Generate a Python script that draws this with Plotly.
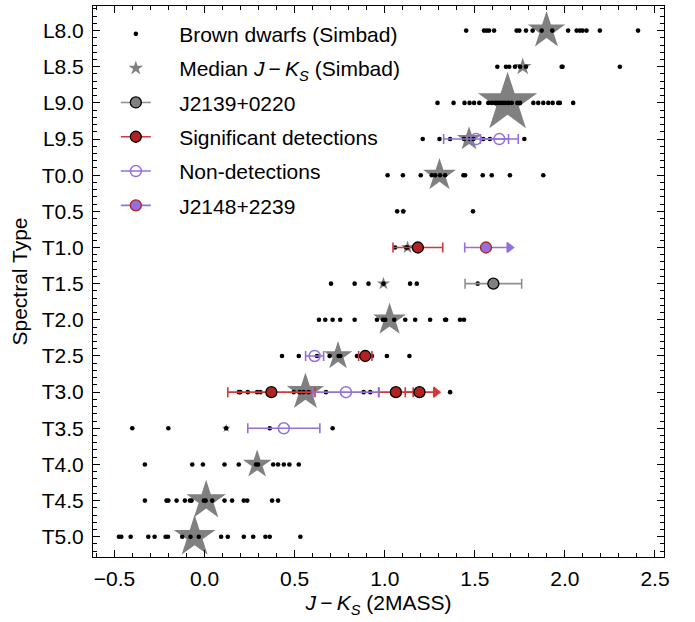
import plotly.graph_objects as go

# ---------------- data ----------------
spectral_types = ["L8.0", "L8.5", "L9.0", "L9.5", "T0.0", "T0.5", "T1.0", "T1.5",
                  "T2.0", "T2.5", "T3.0", "T3.5", "T4.0", "T4.5", "T5.0"]

# J-Ks of Simbad brown dwarfs, one list per spectral type
bd_L80 = [1.452, 1.551, 1.566, 1.579, 1.607, 1.732, 1.747, 1.784, 1.821, 1.871, 1.930,
          2.018, 2.065, 2.083, 2.098, 2.120, 2.194, 2.406]
bd_L85 = [1.625, 1.673, 1.691, 1.723, 1.751, 1.784, 1.982, 1.987, 2.305]
bd_L90 = [1.293, 1.382, 1.443, 1.471, 1.496, 1.525, 1.575, 1.594, 1.612, 1.625, 1.640,
          1.655, 1.669, 1.686, 1.705, 1.736, 1.751, 1.825, 1.852, 1.880, 1.908, 1.932,
          1.963, 1.972, 2.046]
bd_L95 = [1.211, 1.304, 1.363, 1.440, 1.474, 1.492, 1.547, 1.584, 1.775]
bd_T00 = [1.016, 1.101, 1.200, 1.261, 1.280, 1.307, 1.335, 1.437, 1.446, 1.544, 1.594,
          1.695, 1.880]
bd_T05 = [1.069, 1.103, 1.490]
bd_T10 = [1.058, 1.119, 1.127]
bd_T15 = [0.702, 0.833, 0.910, 0.993, 1.141, 1.178, 1.516]
bd_T20 = [0.635, 0.670, 0.711, 0.753, 0.833, 0.957, 0.990, 1.003, 1.053, 1.114, 1.169,
          1.252, 1.335, 1.341, 1.418, 1.440]
bd_T25 = [0.430, 0.523, 0.624, 0.694, 0.744, 0.753, 0.846, 0.868, 0.910, 0.929, 1.012,
          1.137]
bd_T30 = [0.190, 0.199, 0.240, 0.292, 0.310, 0.495, 0.528, 0.550, 0.578, 0.674, 0.883,
          0.920, 1.363]
bd_T35 = [-0.401, -0.201, 0.120, 0.362, 0.711]
bd_T40 = [-0.331, -0.068, -0.009, 0.111, 0.190, 0.286, 0.297, 0.381, 0.408, 0.440,
          0.471, 0.523]
bd_T45 = [-0.331, -0.211, -0.201, -0.155, -0.109, -0.081, -0.072, -0.004, 0.006, 0.043,
          0.111, 0.153, 0.218, 0.237, 0.375, 0.408]
bd_T50 = [-0.475, -0.462, -0.410, -0.312, -0.277, -0.216, -0.203, -0.124, -0.078,
          -0.032, 0.092, 0.129, 0.218, 0.270, 0.338, 0.362, 0.532]

# median J-Ks per spectral type and number of Simbad objects
median_jk = [1.898, 1.766, 1.682, 1.468, 1.304, 1.103, 1.127, 0.993, 1.027, 0.741,
             0.560, 0.120, 0.292, 0.009, -0.055]
n_objects = [17, 8, 27, 11, 15, 3, 6, 6, 15, 13, 17, 4, 13, 18, 19]

# J2139+0220
j2139_type = ["T1.5"]
j2139_jk = [1.603]
j2139_err = [0.157]

# Significant detections
sig_type = ["T1.0", "T2.5", "T3.0", "T3.0", "T3.0"]
sig_jk = [1.184, 0.892, 0.371, 1.062, 1.193]
sig_err = [0.138, 0.037, 0.242, 0.096, 0.079]
sig_lowlim = [False, False, False, False, True]

# Non-detections
non_type = ["L9.5", "L9.5", "T2.5", "T3.0", "T3.5"]
non_jk = [1.507, 1.636, 0.611, 0.785, 0.440]
non_err = [0.180, 0.105, 0.050, 0.183, 0.200]

# J2148+2239
j2148_type = ["T1.0"]
j2148_jk = [1.562]
j2148_err = [0.118]
j2148_lowlim = [True]

# ---------------- styling / layout ----------------
FONT = "Liberation Sans, Arial, Helvetica, sans-serif"
W, H = 695, 622
ML, MR, MT, MB = 93, 31, 6, 65
XR = [-0.619, 2.550]
YR = [14.56, -0.68]
GRAY, RED_F, RED_E, PURPLE = "#808080", "#B22222", "#D03A3A", "#9370DB"
PAD = "\u00a0" * 4   # gap between legend symbol and label

ypos = {t: i for i, t in enumerate(spectral_types)}
bd_rows = [bd_L80, bd_L85, bd_L90, bd_L95, bd_T00, bd_T05, bd_T10, bd_T15,
           bd_T20, bd_T25, bd_T30, bd_T35, bd_T40, bd_T45, bd_T50]

fig = go.Figure()

# median stars
fig.add_trace(go.Scatter(
    x=median_jk, y=[ypos[t] for t in spectral_types], mode="markers",
    marker=dict(symbol="star", size=[1.65 * n for n in n_objects], color=GRAY,
                opacity=1, line=dict(width=0)),
    showlegend=False, hoverinfo="skip"))

# brown dwarf dots
bx, by = [], []
for t, row in zip(spectral_types, bd_rows):
    bx += row
    by += [ypos[t]] * len(row)
fig.add_trace(go.Scatter(
    x=bx, y=by, mode="markers",
    marker=dict(symbol="circle", size=4.6, color="black", opacity=1, line=dict(width=0)),
    showlegend=False, hoverinfo="skip"))

px_per_unit = (W - ML - MR) / (XR[1] - XR[0])
arrow_shift = 2.5 / px_per_unit


def err_points(types, jk, err, fill, edge, ecolor, symbol="circle", lw=1.3):
    fig.add_trace(go.Scatter(
        x=jk, y=[ypos[t] for t in types], mode="markers",
        marker=dict(symbol=symbol, size=11, color=fill, opacity=1,
                    line=dict(color=edge, width=lw)),
        error_x=dict(type="data", array=err, symmetric=True, color=ecolor,
                     thickness=1.6, width=5),
        showlegend=False, hoverinfo="skip"))


def arrows(types, jk, err, lim, color):
    ax = [v + e + arrow_shift for v, e, l in zip(jk, err, lim) if l]
    ay = [ypos[t] for t, l in zip(types, lim) if l]
    fig.add_trace(go.Scatter(
        x=ax, y=ay, mode="markers",
        marker=dict(symbol="triangle-right", size=10, color=color, opacity=1,
                    line=dict(width=0)),
        showlegend=False, hoverinfo="skip"))


err_points(j2139_type, j2139_jk, j2139_err, GRAY, "black", "#8f8f8f")
arrows(sig_type, sig_jk, sig_err, sig_lowlim, RED_E)
err_points(sig_type, sig_jk, sig_err, RED_F, "black", RED_E)
err_points(non_type, non_jk, non_err, PURPLE, PURPLE, PURPLE, symbol="circle-open", lw=1.5)
arrows(j2148_type, j2148_jk, j2148_err, j2148_lowlim, PURPLE)
err_points(j2148_type, j2148_jk, j2148_err, PURPLE, RED_F, PURPLE)

# legend entries
legend_items = [
    ("Brown dwarfs (Simbad)", "markers", dict(symbol="circle", size=4.6, color="black"), None),
    ("Median <i>J</i>\u2009\u2212\u2009<i>K<sub>S</sub></i> (Simbad)", "markers",
     dict(symbol="star", size=11, color=GRAY, line=dict(width=0)), None),
    ("J2139+0220", "lines+markers",
     dict(symbol="circle", size=11, color=GRAY, line=dict(color="black", width=1.3)), "#8f8f8f"),
    ("Significant detections", "lines+markers",
     dict(symbol="circle", size=11, color=RED_F, line=dict(color="black", width=1.3)), RED_E),
    ("Non-detections", "lines+markers",
     dict(symbol="circle-open", size=11, color=PURPLE, line=dict(color=PURPLE, width=1.5)), PURPLE),
    ("J2148+2239", "lines+markers",
     dict(symbol="circle", size=11, color=PURPLE, line=dict(color=RED_F, width=1.3)), PURPLE),
]
for i, (name, mode, mk, lc) in enumerate(legend_items):
    fig.add_trace(go.Scatter(
        x=[None], y=[None], mode=mode, name=PAD + name, marker=mk,
        line=dict(color=lc, width=1.6) if lc else None,
        legendgroup=f"g{i}", showlegend=True))

axis_common = dict(
    showline=True, linecolor="black", linewidth=1, mirror="allticks",
    ticks="inside", ticklen=7, tickwidth=1, tickcolor="black",
    showgrid=False, zeroline=False, automargin=False,
    tickfont=dict(family=FONT, size=21, color="black"),
)

fig.update_xaxes(
    range=XR, tick0=0, dtick=0.5, tickformat=".1f",
    minor=dict(ticks="inside", ticklen=4, tickcolor="black", dtick=0.1, tick0=0, showgrid=False),
    title=dict(text="<i>J</i>\u2009\u2212\u2009<i>K<sub>S</sub></i> (2MASS)",
               font=dict(family=FONT, size=21, color="black"), standoff=6),
    ticklabelstandoff=3,
    **axis_common)
fig.update_yaxes(
    range=YR, tickmode="array", tickvals=list(range(len(spectral_types))),
    ticktext=spectral_types,
    minor=dict(ticks="inside", ticklen=4, tickcolor="black", tickmode="linear",
               tick0=0, dtick=0.2, showgrid=False),
    title=dict(text="Spectral Type", font=dict(family=FONT, size=21, color="black"),
               standoff=8),
    ticklabelstandoff=4,
    **axis_common)

fig.update_layout(
    width=W, height=H, margin=dict(l=ML, r=MR, t=MT, b=MB),
    paper_bgcolor="white", plot_bgcolor="white",
    font=dict(family=FONT, size=21, color="black"),
    showlegend=True,
    legend=dict(x=0.04, y=0.986, xanchor="left", yanchor="top",
                bgcolor="rgba(0,0,0,0)", borderwidth=0,
                font=dict(family=FONT, size=21, color="black"),
                tracegroupgap=4, itemsizing="trace", itemwidth=30),
)

fig.write_html("out.html", config={"displayModeBar": False},
               post_script="document.body.style.margin='0';")
